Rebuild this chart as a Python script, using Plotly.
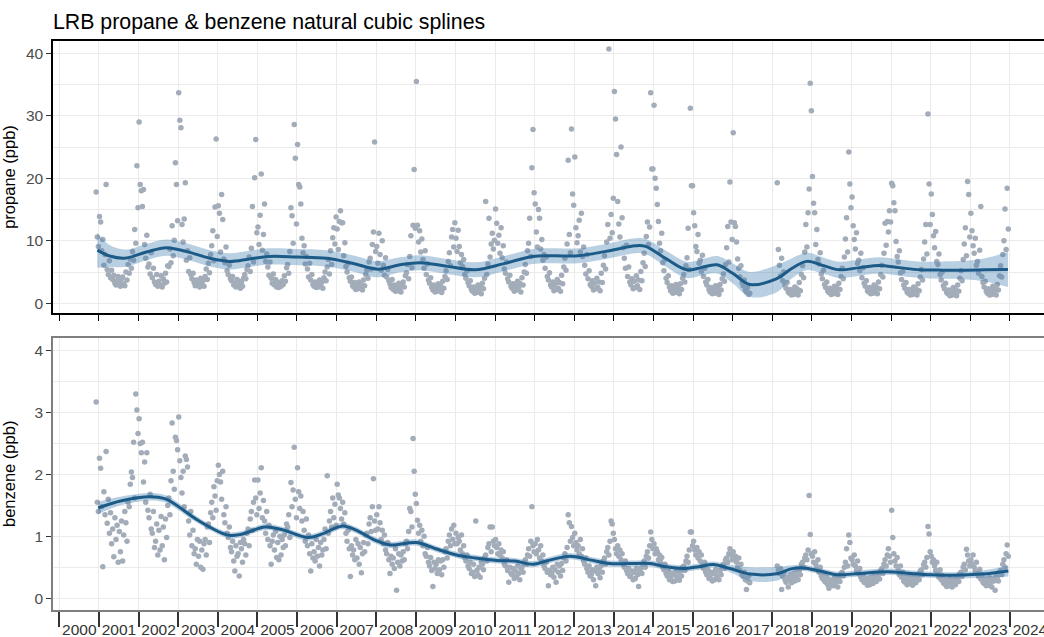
import plotly.graph_objects as go

# --- estilo ---
FONT = "Liberation Sans, Arial, Helvetica, sans-serif"
POINT_COLOR = '#A3ACB9'
LINE_COLOR = '#1C5B88'
RIBBON_COLOR = 'rgba(70,130,180,0.38)'
GRID = '#EBEBEB'

YEARS = list(range(2000, 2025))
SLOTS_PER_YEAR = 36  # ~3 samples per month, Jan..Dec

# --- propane (ppb), 3 samples per month, Jan..Dec ---
prop_2000 = [None] * 33 + [17.8, 10.6, 9.1]
prop_2001 = [13.9, 13.0, 8.4, 10.2, 6.1, 7.8, 19.0, 5.4, 4.6, 6.8, 4.1, 5.3,
             3.8, 4.5, 3.2, 2.9, 3.6, 4.3, 3.3, 2.7, 3.9, 4.2, 3.1, 2.8,
             5.0, 3.7, 6.2, 4.8, 7.1, 5.6, 8.3, 6.9, 11.8, 9.6, 22.0, 15.3]
prop_2002 = [29.0, 19.0, 18.0, 15.5, 18.2, 9.4, 7.2, 10.9, 5.8, 6.3, 4.7, 8.1,
             4.1, 5.6, 3.4, 3.0, 4.6, 2.7, 3.5, 2.9, 4.4, 2.6, 3.9, 3.2,
             4.8, 3.4, 6.0, 5.9, 8.7, 6.5, 12.4, 7.6, 10.1, 22.5, 19.0, 13.2]
prop_2003 = [33.7, 29.3, 28.1, 12.6, 9.8, 13.5, 19.3, 6.9, 8.4, 5.1, 7.3, 4.6,
             3.9, 4.8, 3.3, 2.8, 3.7, 3.1, 3.4, 2.6, 4.0, 3.0, 3.6, 2.7,
             4.3, 5.5, 3.8, 6.4, 4.9, 7.8, 9.2, 11.6, 6.8, 15.4, 26.3, 10.7]
prop_2004 = [15.6, 14.4, 8.2, 17.4, 13.4, 7.1, 6.5, 9.0, 5.2, 4.6, 6.1, 3.9,
             3.6, 4.3, 2.9, 3.2, 2.6, 3.8, 2.8, 3.5, 2.4, 3.3, 2.7, 4.0,
             4.6, 3.9, 5.4, 6.0, 7.4, 5.1, 8.8, 15.5, 6.6, 20.1, 26.2, 11.3]
prop_2005 = [12.2, 9.4, 14.1, 20.7, 8.5, 11.0, 15.9, 6.7, 7.9, 5.8, 4.5, 6.6,
             4.0, 3.2, 4.7, 2.9, 3.8, 2.6, 3.4, 2.5, 3.1, 2.7, 3.6, 3.0,
             4.4, 3.5, 5.7, 6.2, 4.8, 8.3, 15.3, 14.0, 9.6, 28.6, 23.2, 12.7]
prop_2006 = [25.4, 19.0, 18.6, 15.9, 10.4, 8.1, 9.2, 6.3, 7.5, 5.5, 4.2, 6.4,
             3.7, 4.6, 3.0, 2.7, 3.4, 2.5, 3.1, 2.6, 3.7, 2.9, 3.3, 2.4,
             4.1, 5.0, 3.6, 5.8, 7.0, 4.7, 8.4, 6.2, 10.5, 12.1, 9.5, 13.8]
prop_2007 = [11.9, 8.6, 13.1, 14.8, 12.9, 12.9, 7.6, 9.7, 5.9, 5.0, 6.4, 4.1,
             3.5, 4.2, 2.8, 2.6, 3.3, 2.2, 2.9, 2.3, 3.4, 2.5, 3.0, 2.1,
             3.7, 2.8, 4.6, 5.3, 4.0, 6.6, 7.2, 5.5, 9.4, 11.4, 25.8, 8.3]
prop_2008 = [9.1, 6.4, 11.2, 7.8, 5.3, 10.0, 6.1, 4.5, 7.3, 4.2, 5.4, 3.6,
             3.1, 2.5, 3.8, 2.2, 2.9, 1.9, 2.6, 2.0, 3.2, 2.3, 1.8, 2.8,
             3.4, 2.6, 4.4, 4.9, 6.2, 3.9, 7.5, 10.8, 5.7, 12.5, 21.4, 12.0]
prop_2009 = [35.5, 12.5, 9.8, 11.6, 8.2, 10.3, 7.0, 5.6, 8.4, 4.6, 6.3, 3.7,
             3.2, 4.1, 2.5, 2.1, 2.9, 1.8, 2.5, 1.9, 3.1, 2.2, 2.8, 1.7,
             3.5, 2.4, 4.3, 5.2, 3.8, 6.7, 8.1, 6.0, 10.6, 11.8, 9.0, 12.9]
prop_2010 = [10.4, 8.3, 11.7, 9.1, 6.5, 7.8, 5.9, 7.0, 4.6, 4.0, 5.2, 3.3,
             2.8, 3.6, 2.2, 1.9, 2.6, 1.6, 2.3, 1.7, 2.9, 2.0, 2.6, 1.5,
             3.2, 2.3, 4.0, 16.3, 4.6, 6.3, 13.6, 7.4, 9.5, 11.2, 8.7, 10.1]
prop_2011 = [15.1, 12.8, 9.6, 10.9, 8.0, 12.1, 7.3, 9.2, 5.5, 4.8, 6.6, 3.9,
             3.4, 4.5, 2.7, 2.4, 3.1, 1.9, 2.8, 2.1, 3.5, 2.5, 3.2, 1.8,
             4.1, 2.9, 5.0, 6.2, 4.8, 8.4, 9.6, 13.6, 7.5, 21.7, 27.8, 17.7]
prop_2012 = [15.9, 11.4, 9.0, 15.0, 13.6, 8.7, 10.2, 6.9, 7.8, 5.6, 7.4, 4.3,
             3.7, 4.9, 2.9, 2.6, 3.4, 2.0, 3.0, 2.2, 3.8, 2.4, 3.3, 1.9,
             4.5, 3.1, 5.8, 7.2, 5.3, 9.5, 22.9, 11.0, 8.1, 27.9, 17.5, 15.7]
prop_2013 = [23.4, 12.1, 9.7, 10.8, 13.3, 8.2, 14.4, 7.5, 9.0, 6.1, 4.7, 7.8,
             3.9, 5.2, 3.0, 2.7, 3.6, 2.1, 3.2, 2.3, 4.0, 2.5, 3.4, 2.0,
             4.8, 3.3, 6.1, 7.6, 5.5, 9.8, 12.6, 40.7, 10.4, 14.2, 11.3, 16.8]
prop_2014 = [33.9, 29.5, 23.8, 16.3, 12.7, 10.6, 25.0, 13.7, 8.9, 7.2, 5.6, 9.3,
             4.3, 5.8, 3.4, 2.9, 3.9, 2.3, 3.5, 2.5, 4.4, 2.8, 3.7, 2.2,
             5.1, 3.6, 6.5, 8.0, 5.9, 10.7, 13.0, 9.4, 12.2, 33.7, 21.5, 21.5]
prop_2015 = [31.7, 20.0, 18.4, 15.8, 13.1, 9.6, 8.4, 11.2, 6.5, 5.2, 7.0, 4.0,
             3.3, 4.4, 2.6, 2.0, 2.8, 1.6, 2.4, 1.7, 3.0, 1.9, 2.6, 1.5,
             3.1, 2.2, 4.0, 4.6, 3.4, 6.0, 7.3, 12.0, 5.4, 31.2, 18.8, 18.8]
prop_2016 = [14.5, 12.4, 9.1, 8.3, 11.0, 6.4, 6.9, 5.1, 7.7, 4.3, 5.6, 3.4,
             2.9, 3.8, 2.2, 1.8, 2.5, 1.5, 2.2, 1.6, 2.8, 1.7, 2.4, 1.4,
             3.0, 2.1, 3.9, 4.7, 3.5, 6.2, 8.9, 12.3, 6.6, 19.4, 13.0, 10.2]
prop_2017 = [27.3, 12.9, 12.3, 9.8, 7.1, 5.6, 4.2, 6.0, 3.3, 2.8, 3.7, 2.1,
             1.8, 2.5, 1.4, 1.6, None, None, None, None, None, None, None, None,
             None, None, None, None, None, None, None, None, None, None, None, None]
prop_2018 = [None, None, None, None, 19.3, 8.6, 6.1, 4.4, 7.2, 3.6, 5.0, 2.9,
             2.4, 3.3, 1.8, 1.6, 2.2, 1.3, 2.0, 1.4, 2.6, 1.7, 2.3, 1.3,
             3.3, 2.0, 4.6, 6.0, 4.1, 8.2, 12.6, 9.0, 14.5, 18.3, 35.2, 30.8]
prop_2019 = [20.3, 16.0, 14.5, 9.4, 11.8, 7.0, 6.3, 8.1, 4.7, 3.9, 5.3, 3.0,
             2.5, 3.4, 1.9, 1.7, 2.4, 1.4, 2.1, 1.5, 2.7, 1.8, 2.5, 1.4,
             3.2, 2.2, 4.3, 5.6, 3.9, 7.4, 10.3, 13.7, 8.2, 24.2, 19.1, 15.3]
prop_2020 = [17.0, 12.4, 10.2, 8.7, 11.3, 6.4, 6.9, 5.2, 8.0, 4.1, 5.7, 3.2,
             2.7, 3.6, 2.0, 1.8, 2.5, 1.5, 2.2, 1.6, 2.9, 1.9, 2.6, 1.5,
             3.4, 2.3, 4.6, 6.1, 4.2, 8.0, 12.8, 9.3, 13.1, 11.4, 14.8, 13.0]
prop_2021 = [19.2, 18.8, 16.1, 14.8, 9.9, 7.5, 6.6, 8.4, 4.9, 3.8, 5.1, 2.9,
             2.4, 3.3, 1.8, 1.6, 2.2, 1.3, 2.0, 1.4, 2.6, 1.7, 2.3, 1.3,
             3.1, 2.0, 4.2, 5.4, 3.7, 7.1, 9.8, 12.6, 7.9, 30.3, 19.1, 12.6]
prop_2022 = [17.5, 14.2, 10.8, 8.9, 11.5, 6.7, 6.2, 7.9, 4.6, 3.7, 5.0, 2.8,
             2.3, 3.2, 1.7, 1.5, 2.1, 1.2, 1.9, 1.3, 2.5, 1.6, 2.2, 1.2,
             2.9, 1.9, 4.0, 5.2, 3.6, 7.0, 9.5, 12.1, 7.6, 19.5, 17.4, 10.6]
prop_2023 = [14.4, 11.6, 9.2, 8.0, 10.4, 6.1, 6.7, 4.8, 8.5, 15.5, 4.3, 3.3,
             2.6, 3.5, 1.9, 1.6, 2.3, 1.3, 2.0, 1.4, 2.7, 1.7, 2.4, 1.3,
             3.0, 2.1, 4.4, 6.0, 4.2, 7.8, 10.0, 15.1, 8.6, 18.4, 11.9, None]

# --- benzene (ppb), 3 samples per month, Jan..Dec ---
benz_2000 = [None] * 33 + [3.17, 1.55, 1.40]
benz_2001 = [2.26, 2.10, 1.48, 0.51, 1.72, 1.35, 2.37, 1.21, 1.60, 1.05, 1.38, 0.88,
             1.12, 0.67, 1.30, 0.95, 1.18, 0.58, 1.08, 0.75, 1.25, 0.60, 1.02, 1.40,
             1.22, 0.92, 1.55, 1.48, 1.84, 2.04, 1.95, 2.52, 1.62, 3.30, 3.04, 2.66]
benz_2002 = [2.90, 2.50, 2.35, 2.52, 1.88, 2.20, 1.55, 2.35, 1.42, 1.30, 1.68, 1.12,
             1.05, 1.40, 0.82, 0.92, 1.20, 0.70, 1.10, 0.78, 1.32, 0.85, 1.15, 0.62,
             1.28, 0.98, 1.50, 1.62, 1.35, 1.90, 2.83, 2.05, 1.76, 2.60, 2.55, 2.40]
benz_2003 = [2.93, 2.22, 1.95, 1.70, 2.05, 1.48, 2.30, 2.24, 2.12, 1.25, 1.02, 1.40,
             0.85, 1.10, 0.72, 0.80, 0.55, 0.95, 0.68, 0.92, 0.50, 0.78, 0.47, 0.88,
             0.95, 0.70, 1.15, 1.20, 0.90, 1.38, 1.55, 1.30, 1.80, 1.65, 1.42, 1.90]
benz_2004 = [2.15, 2.00, 1.88, 1.60, 2.05, 1.35, 1.22, 1.48, 1.05, 0.98, 1.15, 0.82,
             0.75, 0.92, 0.60, 0.44, 0.85, 0.68, 0.72, 0.36, 0.90, 0.80, 0.58, 0.95,
             0.88, 0.70, 1.05, 1.12, 0.85, 1.28, 1.40, 1.10, 1.55, 1.91, 1.62, 1.35]
benz_2005 = [1.91, 1.45, 1.70, 2.11, 1.30, 1.58, 1.25, 1.05, 1.40, 0.95, 1.18, 0.85,
             0.55, 0.92, 1.02, 0.78, 1.08, 0.66, 0.90, 0.62, 1.00, 0.70, 0.95, 0.82,
             1.02, 0.85, 1.20, 1.15, 1.35, 0.98, 1.87, 1.48, 1.75, 2.44, 1.60, 1.30]
benz_2006 = [2.11, 1.72, 1.45, 1.65, 1.25, 1.40, 1.10, 0.92, 1.28, 0.85, 1.02, 0.72,
             0.44, 0.88, 0.65, 0.75, 0.60, 0.95, 0.68, 0.82, 0.52, 0.90, 0.70, 0.78,
             0.95, 1.12, 0.80, 1.98, 1.05, 1.25, 1.40, 1.15, 1.62, 1.30, 1.52, 1.18]
benz_2007 = [1.84, 1.67, 1.62, 1.45, 1.28, 1.55, 1.20, 1.38, 1.05, 0.92, 1.10, 0.80,
             0.35, 0.85, 0.70, 0.78, 0.62, 0.95, 0.65, 0.88, 0.55, 0.82, 0.41, 0.72,
             0.90, 0.75, 1.02, 1.05, 0.88, 1.20, 1.30, 1.08, 1.48, 1.93, 1.25, 1.10]
benz_2008 = [1.35, 1.12, 1.48, 1.22, 0.95, 1.10, 0.88, 1.02, 0.78, 0.72, 0.90, 0.62,
             0.40, 0.68, 0.55, 0.65, 0.48, 0.80, 0.13, 0.58, 0.72, 0.52, 0.70, 0.60,
             0.75, 0.62, 0.88, 0.92, 0.80, 1.08, 1.45, 1.40, 1.15, 2.58, 2.05, 1.68]
benz_2009 = [1.53, 1.26, 1.05, 1.18, 0.92, 1.10, 0.85, 1.00, 0.72, 0.68, 0.82, 0.58,
             0.52, 0.66, 0.45, 0.19, 0.58, 0.48, 0.55, 0.40, 0.62, 0.46, 0.60, 0.38,
             0.62, 0.50, 0.75, 0.80, 0.65, 0.92, 1.02, 0.85, 1.12, 0.95, 1.18, 0.88]
benz_2010 = [1.05, 0.88, 0.98, 0.92, 0.78, 1.02, 0.72, 0.85, 0.65, 0.60, 0.70, 0.52,
             0.48, 0.58, 0.40, 0.42, 0.55, 0.35, 1.25, 0.45, 0.38, 0.50, 0.34, 0.58,
             0.55, 0.46, 0.66, 0.70, 0.60, 0.82, 0.88, 1.15, 0.75, 1.15, 0.92, 0.85]
benz_2011 = [0.95, 0.82, 0.72, 0.88, 0.70, 0.78, 0.65, 0.75, 0.55, 0.52, 0.62, 0.45,
             0.26, 0.50, 0.40, 0.38, 0.48, 0.32, 0.44, 0.35, 0.52, 0.40, 0.30, 0.48,
             0.50, 0.42, 0.58, 0.62, 0.55, 0.70, 0.80, 0.68, 0.92, 1.48, 0.85, 0.75]
benz_2012 = [0.88, 0.72, 0.95, 0.78, 0.65, 0.85, 0.60, 0.70, 0.52, 0.48, 0.58, 0.42,
             0.20, 0.45, 0.38, 0.40, 0.50, 0.34, 0.46, 0.26, 0.55, 0.42, 0.52, 0.36,
             0.56, 0.45, 0.65, 0.72, 0.60, 0.82, 1.35, 1.22, 0.92, 1.16, 0.98, 0.85]
benz_2013 = [1.05, 0.90, 0.78, 0.85, 0.72, 0.95, 0.68, 0.80, 0.60, 0.55, 0.65, 0.48,
             0.42, 0.52, 0.36, 0.38, 0.46, 0.30, 0.44, 0.20, 0.50, 0.40, 0.48, 0.33,
             0.52, 0.42, 0.60, 0.65, 0.55, 0.75, 0.82, 0.70, 0.92, 1.25, 1.20, 1.05]
benz_2014 = [0.95, 0.80, 0.72, 0.85, 0.68, 0.78, 0.62, 0.72, 0.55, 0.50, 0.60, 0.45,
             0.40, 0.48, 0.35, 0.36, 0.44, 0.30, 0.42, 0.32, 0.48, 0.38, 0.19, 0.45,
             0.48, 0.40, 0.55, 0.60, 0.50, 0.68, 0.75, 0.65, 0.85, 1.07, 0.95, 0.80]
benz_2015 = [0.88, 0.72, 0.80, 0.75, 0.62, 0.70, 0.58, 0.66, 0.50, 0.46, 0.55, 0.40,
             0.36, 0.44, 0.30, 0.32, 0.40, 0.27, 0.38, 0.28, 0.44, 0.34, 0.42, 0.29,
             0.44, 0.36, 0.50, 0.52, 0.45, 0.60, 0.68, 0.58, 0.78, 1.07, 1.07, 0.85]
benz_2016 = [0.92, 0.78, 0.70, 0.82, 0.65, 0.75, 0.60, 0.70, 0.52, 0.48, 0.58, 0.42,
             0.38, 0.46, 0.32, 0.34, 0.42, 0.28, 0.40, 0.30, 0.46, 0.36, 0.44, 0.30,
             0.45, 0.38, 0.52, 0.55, 0.48, 0.62, 0.65, 0.58, 0.72, 0.80, 0.70, 0.62]
benz_2017 = [0.75, 0.62, 0.68, 0.58, 0.50, 0.65, 0.45, 0.55, 0.38, 0.35, 0.42, 0.30,
             0.14, 0.28, 0.36, 0.25, None, None, None, None, None, None, None, None,
             None, None, None, None, None, None, None, None, None, None, None, None]
benz_2018 = [None, None, None, None, 0.52, 0.45, 0.40, 0.48, 0.14, 0.35, 0.42, 0.30,
             0.26, 0.34, 0.18, 0.30, 0.38, 0.25, 0.33, 0.40, 0.28, 0.36, 0.44, 0.30,
             0.45, 0.38, 0.55, 0.58, 0.50, 0.65, 0.70, 0.62, 0.78, 1.66, 1.03, 0.72]
benz_2019 = [0.68, 0.58, 0.75, 0.55, 0.48, 0.62, 0.42, 0.50, 0.36, 0.32, 0.40, 0.28,
             0.26, 0.34, 0.22, 0.16, 0.30, 0.24, 0.28, 0.20, 0.33, 0.25, 0.32, 0.18,
             0.33, 0.27, 0.40, 0.42, 0.36, 0.50, 0.58, 0.80, 0.52, 1.02, 0.90, 0.65]
benz_2020 = [0.62, 0.55, 0.70, 0.52, 0.45, 0.60, 0.40, 0.48, 0.34, 0.30, 0.38, 0.26,
             0.25, 0.32, 0.21, 0.28, 0.22, 0.34, 0.30, 0.24, 0.36, 0.33, 0.27, 0.40,
             0.38, 0.31, 0.45, 0.48, 0.40, 0.55, 0.62, 0.52, 0.70, 0.80, 0.68, 0.58]
benz_2021 = [1.42, 0.98, 0.72, 0.60, 0.52, 0.66, 0.45, 0.38, 0.52, 0.34, 0.42, 0.28,
             0.26, 0.34, 0.22, 0.30, 0.24, 0.36, 0.28, 0.21, 0.33, 0.31, 0.25, 0.38,
             0.36, 0.30, 0.44, 0.46, 0.38, 0.54, 0.58, 0.50, 0.66, 1.16, 1.04, 0.75]
benz_2022 = [0.68, 0.58, 0.62, 0.52, 0.45, 0.58, 0.40, 0.34, 0.46, 0.30, 0.37, 0.25,
             0.23, 0.30, 0.19, 0.26, 0.20, 0.32, 0.24, 0.18, 0.30, 0.27, 0.22, 0.34,
             0.33, 0.27, 0.40, 0.42, 0.35, 0.50, 0.55, 0.46, 0.79, 0.70, 0.60, 0.52]
benz_2023 = [0.62, 0.55, 0.70, 0.50, 0.44, 0.58, 0.40, 0.35, 0.47, 0.31, 0.38, 0.26,
             0.24, 0.31, 0.20, 0.27, 0.21, 0.33, 0.25, 0.18, 0.31, 0.28, 0.13, 0.35,
             0.34, 0.28, 0.42, 0.45, 0.38, 0.55, 0.62, 0.50, 0.72, 0.86, 0.68, None]

# --- natural cubic spline fits (value and half-width of the band) ---
prop_fit_x = [2000.96, 2001.25, 2001.65, 2002.2, 2002.7, 2003.2, 2003.8, 2004.3, 2004.8, 2005.3,
              2006.0, 2006.75, 2007.4, 2008.05, 2008.6, 2009.1, 2009.8, 2010.5, 2011.2, 2011.95,
              2012.5, 2013.1, 2013.8, 2014.55, 2014.8, 2015.3, 2015.84, 2016.2, 2016.6, 2017.0,
              2017.44, 2018.1, 2018.5, 2018.87, 2019.3, 2019.7, 2020.2, 2020.7, 2021.2, 2021.73,
              2022.3, 2022.9, 2023.4, 2023.95]
prop_fit = [8.5, 7.6, 7.2, 8.2, 8.9, 8.3, 7.2, 6.7, 7.1, 7.5,
            7.4, 7.2, 6.4, 5.45, 6.15, 6.5, 5.9, 5.35, 6.3, 7.5,
            7.6, 7.6, 8.3, 9.2, 9.1, 7.2, 5.35, 5.7, 6.15, 4.8,
            3.0, 3.9, 5.6, 6.7, 6.0, 5.35, 5.7, 6.05, 5.7, 5.35,
            5.3, 5.3, 5.35, 5.4]
prop_band = [2.8, 1.8, 1.4, 1.3, 1.3, 1.3, 1.3, 1.3, 1.3, 1.3,
             1.3, 1.3, 1.3, 1.3, 1.2, 1.2, 1.2, 1.2, 1.2, 1.2,
             1.2, 1.2, 1.2, 1.2, 1.2, 1.3, 1.3, 1.3, 1.4, 1.6,
             2.0, 2.2, 1.6, 1.4, 1.3, 1.3, 1.3, 1.3, 1.3, 1.3,
             1.4, 1.5, 1.9, 2.8]

benz_fit_x = [2000.98, 2001.57, 2002.29, 2002.66, 2002.92, 2003.5, 2004.26, 2004.6, 2005.19, 2005.61,
              2006.28, 2006.62, 2007.13, 2007.46, 2007.97, 2008.35, 2009.02, 2009.5, 2010.03, 2010.5,
              2011.04, 2011.5, 2011.96, 2012.4, 2012.9, 2013.4, 2013.9, 2014.4, 2014.91, 2015.3,
              2015.75, 2016.15, 2016.51, 2016.93, 2017.44, 2018.15, 2018.45, 2018.78, 2019.2, 2019.63,
              2020.2, 2020.89, 2021.5, 2022.0, 2022.57, 2023.3, 2023.96]
benz_fit = [1.46, 1.575, 1.64, 1.61, 1.52, 1.26, 1.02, 1.035, 1.15, 1.11,
            0.98, 1.035, 1.165, 1.11, 0.94, 0.86, 0.90, 0.80, 0.70, 0.65,
            0.61, 0.60, 0.55, 0.62, 0.68, 0.62, 0.56, 0.56, 0.56, 0.51,
            0.48, 0.51, 0.545, 0.48, 0.39, 0.40, 0.47, 0.49, 0.44, 0.38,
            0.40, 0.43, 0.40, 0.38, 0.37, 0.39, 0.44]
benz_band = [0.10, 0.07, 0.06, 0.06, 0.06, 0.05, 0.05, 0.05, 0.05, 0.05,
             0.05, 0.05, 0.05, 0.05, 0.05, 0.05, 0.05, 0.05, 0.05, 0.05,
             0.05, 0.05, 0.05, 0.05, 0.05, 0.05, 0.05, 0.05, 0.05, 0.05,
             0.05, 0.05, 0.05, 0.06, 0.11, 0.11, 0.06, 0.05, 0.05, 0.05,
             0.05, 0.05, 0.05, 0.05, 0.05, 0.06, 0.09]

prop_by_year = [prop_2000, prop_2001, prop_2002, prop_2003, prop_2004, prop_2005, prop_2006,
                prop_2007, prop_2008, prop_2009, prop_2010, prop_2011, prop_2012, prop_2013,
                prop_2014, prop_2015, prop_2016, prop_2017, prop_2018, prop_2019, prop_2020,
                prop_2021, prop_2022, prop_2023]
benz_by_year = [benz_2000, benz_2001, benz_2002, benz_2003, benz_2004, benz_2005, benz_2006,
                benz_2007, benz_2008, benz_2009, benz_2010, benz_2011, benz_2012, benz_2013,
                benz_2014, benz_2015, benz_2016, benz_2017, benz_2018, benz_2019, benz_2020,
                benz_2021, benz_2022, benz_2023]


def flatten(by_year):
    xs, ys = [], []
    for k, vals in enumerate(by_year):
        for i, v in enumerate(vals):
            if v is None:
                continue
            xs.append(2000 + k + (i + 0.5) / SLOTS_PER_YEAR)
            ys.append(v)
    return xs, ys


def add_panel(fig, by_year, fit_x, fit, band, xa, ya):
    xs, ys = flatten(by_year)
    fig.add_trace(go.Scatter(x=xs, y=ys, mode='markers', xaxis=xa, yaxis=ya,
                             marker=dict(size=5.5, color=POINT_COLOR), showlegend=False))
    lo = [f - b for f, b in zip(fit, band)]
    hi = [f + b for f, b in zip(fit, band)]
    fig.add_trace(go.Scatter(x=fit_x, y=lo, mode='lines', xaxis=xa, yaxis=ya,
                             line=dict(width=0, shape='spline'), showlegend=False))
    fig.add_trace(go.Scatter(x=fit_x, y=hi, mode='lines', xaxis=xa, yaxis=ya, fill='tonexty',
                             fillcolor=RIBBON_COLOR, line=dict(width=0, shape='spline'),
                             showlegend=False))
    fig.add_trace(go.Scatter(x=fit_x, y=fit, mode='lines', xaxis=xa, yaxis=ya,
                             line=dict(width=3, color=LINE_COLOR, shape='spline'),
                             showlegend=False))


fig = go.Figure()
add_panel(fig, prop_by_year, prop_fit_x, prop_fit, prop_band, 'x', 'y')
add_panel(fig, benz_by_year, benz_fit_x, benz_fit, benz_band, 'x2', 'y2')

X_RANGE = [1999.84, 2024.86]
TICKFONT = dict(family=FONT, size=15.5, color='#4D4D4D')
YTITLE_FONT = dict(family=FONT, size=16.5, color='black')

fig.update_layout(
    width=1044, height=637,
    margin=dict(l=53, r=0, t=41, b=27, autoexpand=False),
    plot_bgcolor='white', paper_bgcolor='white',
    font=dict(family=FONT),
    title=dict(text='LRB propane & benzene natural cubic splines', xref='container',
               x=53 / 1044, xanchor='left', yref='container', y=1 - 22 / 637, yanchor='middle',
               font=dict(family=FONT, size=21.3, color='black')),
    xaxis=dict(domain=[0, 1], anchor='y', range=X_RANGE, tickvals=YEARS, showticklabels=False,
               ticks='outside', ticklen=6, tickwidth=1.3, tickcolor='black', automargin=False,
               showgrid=True, gridcolor=GRID, gridwidth=1.3, zeroline=False,
               showline=True, linecolor='black', linewidth=1.5, mirror=True),
    yaxis=dict(domain=[0.522, 1], anchor='x', range=[-1.56, 41.98], tickvals=[0, 10, 20, 30, 40],
               ticks='outside', ticklen=5, tickwidth=1.3, tickcolor='#333333', tickfont=TICKFONT,
               showgrid=True, gridcolor=GRID, gridwidth=1.3, zeroline=False, automargin=False,
               minor=dict(dtick=5, tick0=0, showgrid=True, gridcolor=GRID, gridwidth=1.3),
               showline=True, linecolor='black', linewidth=1.5,
               title=dict(text='propane (ppb)', font=YTITLE_FONT)),
    xaxis2=dict(domain=[0, 1], anchor='y2', range=X_RANGE, tickvals=YEARS,
                ticktext=[str(y) for y in YEARS], tickfont=dict(family=FONT, size=15.5, color='#333333'),
                ticks='outside', ticklen=15, tickwidth=1.5, tickcolor='#333333',
                ticklabelshift=20, ticklabelstandoff=-10, ticklabeloverflow='allow',
                automargin=False,
                showgrid=True, gridcolor=GRID, gridwidth=1.3, zeroline=False,
                showline=True, linecolor='#7F7F7F', linewidth=1.5, mirror=True),
    yaxis2=dict(domain=[0, 0.4786], anchor='x2', range=[-0.19, 4.21], tickvals=[0, 1, 2, 3, 4],
                ticks='outside', ticklen=5, tickwidth=1.3, tickcolor='#333333', tickfont=TICKFONT,
                showgrid=True, gridcolor=GRID, gridwidth=1.3, zeroline=False, automargin=False,
                minor=dict(dtick=0.5, tick0=0, showgrid=True, gridcolor=GRID, gridwidth=1.3),
                showline=True, linecolor='#7F7F7F', linewidth=1.5,
                title=dict(text='benzene (ppb)', font=YTITLE_FONT)),
)

# the page's default body margin would shift the figure by 8px
fig.write_html("out.html", config={'displayModeBar': False},
               post_script="document.body.style.margin='0';")
